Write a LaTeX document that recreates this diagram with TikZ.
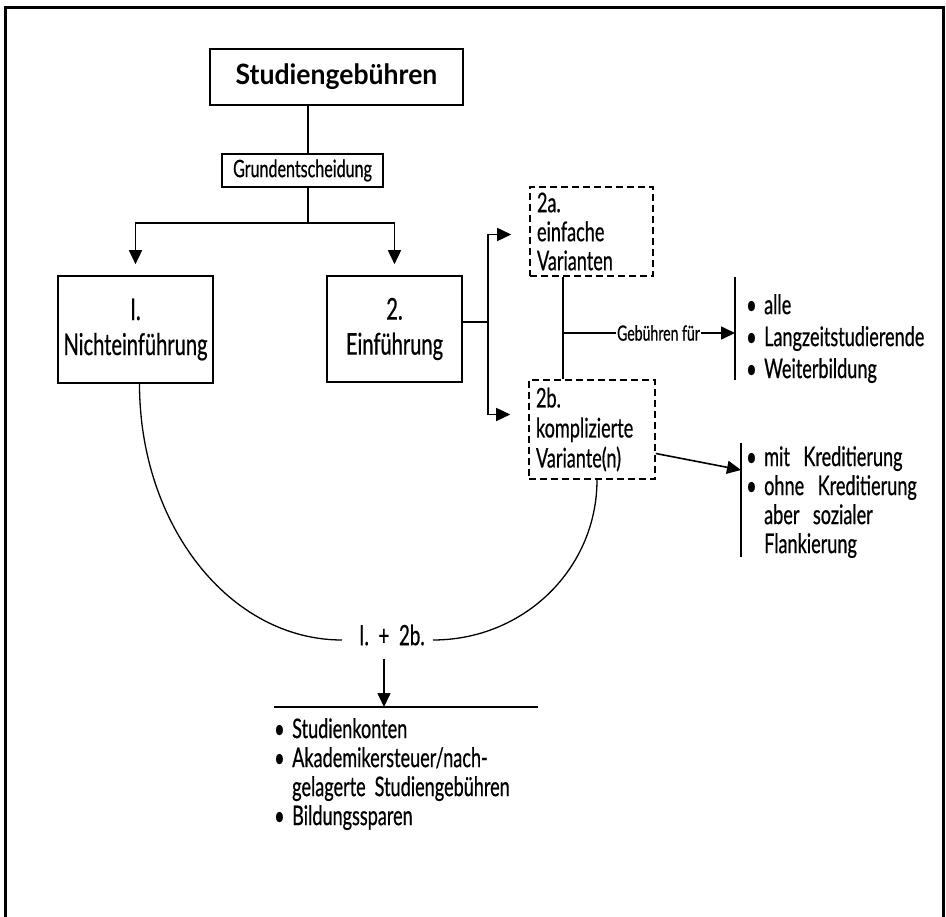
\documentclass[tikz,border=0pt]{standalone}
\usepackage{fontspec}
\setmainfont{Lato}[FakeStretch=0.67, FakeBold=0.6]
\newfontfamily\titlefont{Lato}[FakeStretch=0.95]
\usepackage{tikz}
\usetikzlibrary{positioning, arrows.meta}
\tikzstyle{box} = [rectangle, draw=black, line width=1.6pt, align=center, inner sep=0pt]
\tikzstyle{variant} = [rectangle, draw=black, line width=1.6pt, dash pattern=on 7pt off 4pt, align=left, inner ysep=0pt, inner xsep=7pt]
\tikzstyle{line} = [line width=1.6pt]
\tikzstyle{arrow} = [line width=1.6pt, -{Triangle[length=14pt,width=13pt]}]
\tikzstyle{curve} = [line width=1.3pt]
\tikzstyle{list} = [align=left, inner sep=0pt, anchor=north west]
\newcommand{\itm}{\makebox[18pt][l]{•}}
\newcommand{\ind}{\hspace*{18pt}}
\newcommand{\widespace}{\spaceskip=0.5em\relax}

\begin{document}
\begin{tikzpicture}[x=1pt, y=-1pt]
        \useasboundingbox (0,0) rectangle (946,917);
        \draw [line width=3pt] (5,930) -- (5,8) -- (943,8) -- (943,930);

        \node (title) [box, minimum width=253pt, minimum height=56pt, font=\titlefont\bfseries\fontsize{28}{32}\selectfont] at (336.5,77) {Studiengebühren};
        \node (grund) [box, minimum width=161pt, minimum height=33pt, font=\fontsize{24}{28}\selectfont] at (302.5,170.5) {Grundentscheidung};
        \node (nI) [box, minimum width=155pt, minimum height=107pt, font=\fontsize{30}{35}\selectfont] at (135.5,329.5) {I.\\Nichteinführung};
        \node (nII) [box, minimum width=135pt, minimum height=106pt, font=\fontsize{30}{35}\selectfont] at (394.5,329) {2.\\Einführung};
        \node (nIIa) [variant, text width=109pt, minimum height=89pt, font=\fontsize{27}{29}\selectfont] at (591.5,231.5) {2a.\\einfache\\Varianten};
        \node (nIIb) [variant, text width=112pt, minimum height=99pt, font=\fontsize{27}{30}\selectfont] at (592,429.5) {2b.\\komplizierte\\Variante(n)};
        \node (fuer) [inner xsep=1pt, inner ysep=0pt, font=\fontsize{21}{24}\selectfont] at (658.5,333) {Gebühren für};
        \node (gruppen) [list, font=\fontsize{27}{32}\selectfont] at (746,294) {\itm alle\\\itm Langzeitstudierende\\\itm Weiterbildung};
        \node (kredit) [list, font=\fontsize{27}{29}\selectfont\widespace] at (746,446) {\itm mit Kreditierung\\\itm ohne Kreditierung\\\ind aber sozialer\\\ind Flankierung};
        \node (merge) [inner sep=0pt, font=\fontsize{28}{32}\selectfont] at (392,635) {I.\ \ +\ \ 2b.};
        \node (konten) [list, text width=264pt, font=\fontsize{27}{29}\selectfont\widespace] at (274,718) {\itm Studienkonten\\\itm Akademikersteuer/nach-\\\ind gelagerte Studiengebühren\\\itm Bildungssparen};

        \coordinate (trunk) at (308,223);
        \coordinate (fork) at (488,322);
        \coordinate (link) at (563,333);
        \coordinate (barA) at (735,277);
        \coordinate (barB) at (741,443);
        \coordinate (barBin) at (741,470);
        \coordinate (mergeL) at (342,640);
        \coordinate (mergeR) at (433,640);
        \coordinate (kin) at (384,707);

        \draw [line] (title.south -| trunk) -- (grund.north -| trunk);
        \draw [line] (grund.south -| trunk) -- (trunk);
        \draw [arrow, shorten >=11pt] (trunk) -| (nI.north);
        \draw [arrow, shorten >=11pt] (trunk) -| (nII.north);
        \draw [line] (nII.east |- fork) -- (fork);
        \draw [arrow, shorten >=18pt] (fork) |- ([yshift=-3pt]nIIa.west);
        \draw [arrow, shorten >=18pt] (fork) |- ([yshift=15pt]nIIb.west);
        \draw [line] (nIIa.south -| link) -- (nIIb.north -| link);
        \draw [line] (link) -- (fuer.west);
        \draw [line] (barA) -- ++(0,103);
        \draw [arrow] (fuer.east) -- (fuer.east -| barA);
        \draw [line] (barB) -- ++(0,114);
        \draw [arrow] ([yshift=-24pt]nIIb.east) -- (barBin);

        % Zusammenfuehrung
        \draw [curve] ([xshift=4pt]nI.south) .. controls +(0,142) and +(-112,0) .. (mergeL);
        \draw [curve] ([xshift=5pt]nIIb.south) .. controls +(0,89) and +(91,0) .. (mergeR);
        \draw [arrow, shorten <=13pt] (merge.south -| kin) -- (kin);
        \draw [line] (274,707) -- (538,707);
    \end{tikzpicture}
\end{document}
